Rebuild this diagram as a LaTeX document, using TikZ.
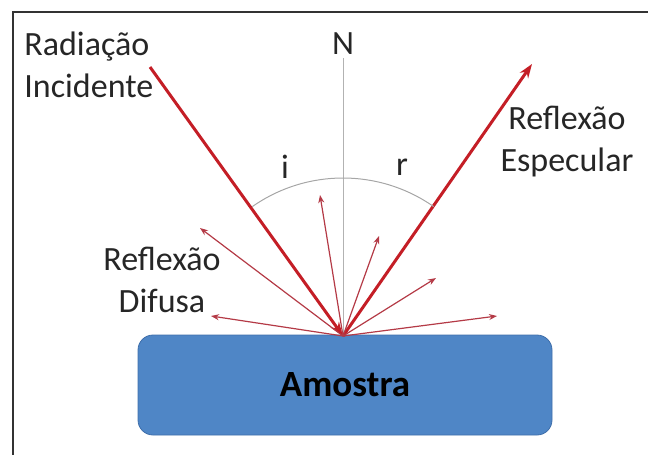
\documentclass[tikz,border=0pt]{standalone}
\usepackage{fontspec}
\setmainfont{Carlito}
\usepackage{xcolor}
\usetikzlibrary{arrows.meta,positioning}
\definecolor{rayred}{RGB}{196,30,38}
\definecolor{diffred}{RGB}{180,58,70}
\definecolor{sampleblue}{RGB}{79,134,198}
\definecolor{sampleedge}{RGB}{62,110,170}

\begin{document}
\begin{tikzpicture}[x=0.5pt,y=-0.5pt,
  txt/.style={font=\fontsize{17}{21}\selectfont, inner sep=0pt, text=black!85},
  ray/.style={rayred, line width=1.5pt, -{Stealth[length=7pt,width=5pt]}},
  diffuse/.style={diffred, line width=0.6pt, -{Stealth[length=4pt,width=3pt]}}]
\useasboundingbox (0,0) rectangle (648,455);

% Frame
\draw[black!80, line width=0.8pt] (13,455) -- (13,12) -- (648,12);

% Sample
\node[draw=sampleedge, fill=sampleblue, rounded corners=7.5pt,
  minimum width=207pt, minimum height=50pt,
  font=\bfseries\fontsize{18.5}{22}\selectfont] (sample) at (345,385) {Amostra};

% Point of incidence and normal
\coordinate (P) at (343,336);
\node[txt] (N) at (343,44) {N};
\coordinate (Nfoot) at (343,58);
\draw[gray!60, line width=0.4pt] (Nfoot) -- (P);

% Incident and specular rays
\coordinate (src) at (150,67);
\coordinate (spec) at (532,64);
\draw[ray] (src) -- (P);
\draw[ray] (P) -- (spec);

% Angles
\draw[gray!70, line width=0.5pt] (P) ++(125:79pt) arc[start angle=125, end angle=55, radius=79pt];
\node[txt] (i) at (285,167) {i};
\node[txt] (r) at (402,167) {r};

% Diffuse reflection
\coordinate (d1) at (200,228);
\coordinate (d2) at (320,195);
\coordinate (d3) at (379,236);
\coordinate (d4) at (436,278);
\coordinate (d5) at (497,316);
\coordinate (d6) at (211,316);
\draw[diffuse] (P) -- (d1);
\draw[diffuse] (P) -- (d2);
\draw[diffuse] (P) -- (d3);
\draw[diffuse] (P) -- (d4);
\draw[diffuse] (P) -- (d5);
\draw[diffuse] (P) -- (d6);

% Labels
\node[txt, align=left, anchor=west] (incLabel) at (24,65) {Radiação\\Incidente};
\node[txt, align=center] (specLabel) at (567,142) {Reflexão\\Especular};
\node[txt, align=center] (diffLabel) at (162,280) {Reflexão\\Difusa};
\end{tikzpicture}
\end{document}
